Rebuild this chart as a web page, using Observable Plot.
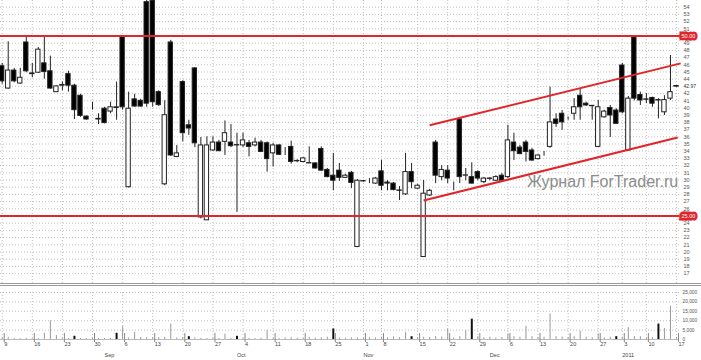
<!DOCTYPE html>
<html><head><meta charset="utf-8">
<script src="https://cdn.jsdelivr.net/npm/d3@7"></script>
<script src="https://cdn.jsdelivr.net/npm/@observablehq/plot@0.6"></script>
<style>
body{margin:0;background:#fff;}
#wrap{position:relative;width:701px;height:360px;overflow:hidden;font-family:"Liberation Sans",Arial,sans-serif;background:#fff;}
#wm{position:absolute;left:527px;top:173px;font-size:16px;color:#8c8c8c;white-space:nowrap;font-family:"Liberation Sans",Arial,sans-serif;}
#vol{border-top:3px double #9a9a9a;}
svg{display:block}
</style></head><body>
<div id="wrap"><div id="main"></div><div id="vol"></div><div id="wm">Журнал ForTrader.ru</div></div>
<script>
const opens = [45.8,42.7,45.2,43.4,49.1,44.8,44.9,46.2,45.1,42.2, 43.1,44.7,43.1,41.7,38.8,39.9,38.4,39.9,39.5,40.0, 49.9,29.0,41.2,41.0,54.7,54.9,42.2,29.4,49.1,33.2, 43.6,37.6,45.5,24.8,24.4,34.1,35.2,35.3,35.2,34.8, 34.8,35.1,34.8,35.2,35.1,33.7,34.8,34.4,34.6,32.6, 32.5,32.3,32.3,34.3,31.4,30.6,31.3,30.3,31.0,20.7, 29.85,29.8,29.5,31.2,29.65,29.5,28.55,28.0,31.1,28.8, 19.3,27.85,35.2,30.4,31.3,29.5,38.4,30.6,30.4,31.1, 29.7,30.15,29.9,30.6,30.4,35.2,34.5,35.2,34.1,32.9, 33.9,34.6,38.4,39.2,38.7,39.2,41.7,40.6,40.3,34.6, 38.7,40.0,39.65,45.9,34.1,49.8,41.8,41.2,41.4,41.1, 39.4,41.3,43.05];
const closes = [43.7,45.2,43.7,44.2,45.1,44.7,48.1,45.0,42.7,43.0, 43.2,43.1,39.7,38.9,38.4,39.9,38.5,37.9,40.1,40.1, 40.1,39.9,40.2,40.2,40.6,40.8,40.4,39.0,33.4,33.7, 36.5,37.15,35.1,34.8,34.8,35.2,34.0,36.5,34.7,34.85, 35.5,34.6,35.2,33.9,32.9,34.8,33.5,34.4,32.5,32.65, 33.0,32.35,31.6,31.3,30.4,29.9,30.3,30.6,29.6,29.9, 29.8,29.8,30.2,29.2,29.5,28.6,28.5,31.1,29.7,29.2, 28.1,28.5,30.6,31.4,30.2,29.5,30.4,30.65,29.5,30.2, 30.2,30.2,30.4,29.9,35.5,34.0,33.6,33.9,32.7,33.4, 33.9,38.0,37.8,38.0,38.7,40.1,40.1,40.35,40.25,40.1, 39.5,38.96,37.8,39.4,41.3,41.3,41.04,41.15,40.6,41.04, 41.1,42.2,42.97];
const highs = [46.2,49.2,45.5,45.5,49.8,46.2,48.4,49.8,47.2,43.1, 43.6,45.1,43.3,41.9,38.9,40.8,39.2,40.1,40.8,43.6, 49.9,42.2,41.9,41.2,56,56,42.4,41.0,49.4,34.8, 43.8,38.3,45.6,35.9,36.0,36.0,35.5,38.2,37.7,36.5, 36.5,35.5,35.8,35.5,35.3,35.1,34.9,34.5,35.4,32.8, 33.1,34.6,32.4,34.6,31.6,33.7,32.3,30.8,31.2,30.07, 29.93,30.2,30.35,32.7,29.9,29.65,29.1,33.7,32.3,29.4, 29.93,28.7,35.5,32.0,32.0,29.7,38.5,31.6,32.4,31.3, 30.35,30.35,30.6,30.9,37.6,36.5,34.8,35.5,34.4,33.5, 33.95,42.9,39.2,39.65,38.75,41.3,42.7,40.8,40.35,41.04, 39.7,40.35,39.9,46.2,41.6,49.9,42.2,42.0,41.5,41.3, 41.7,47.3,43.1];
const lows = [43.3,42.6,43.5,43.3,44.9,44.2,44.8,44.0,42.6,42.2, 42.4,42.2,38.4,38.7,38.3,39.7,37.7,37.8,39.2,38.3, 39.7,28.9,40.1,40.1,40.1,40.1,40.2,29.2,33.3,33.1, 35.3,36.2,34.5,24.6,24.4,34.0,34.0,33.4,34.5,25.5, 34.5,33.2,34.6,33.8,31.1,31.8,33.4,33.4,32.2,32.4, 32.4,32.3,31.5,31.2,30.3,28.5,29.8,30.2,28.8,20.6, 29.7,29.5,29.4,28.5,28.5,28.5,27.15,27.85,28.8,28.7, 19.24,27.7,29.5,29.9,29.5,28.5,29.5,29.9,29.45,29.9, 29.5,29.9,29.8,29.8,30.2,32.7,33.5,32.5,32.6,32.8, 33.3,34.4,37.3,36.9,38.3,38.3,38.3,40.2,38.3,34.5, 38.6,35.9,37.7,39.2,34.0,41.0,40.35,40.6,40.1,38.5, 38.96,41.04,42.9];
const volumes = [700,1200,500,400,600,400,500,3300,9900,2100, 400,500,1700,500,400,500,600,500,600,3300, 6800,800,3800,1000,1000,1000,1000,1200,8200,800, 1000,1500,800,600,500,600,500,2800,600,1700, 500,600,500,700,4700,600,500,800,900,600, 500,1000,700,900,1200,5600,800,700,900,800, 700,900,800,1200,900,1400,1000,3800,1500,800, 1200,1000,1500,1300,5600,800,1500,4700,10800,1500, 900,1200,800,1000,3000,1500,1200,7000,1500,1000, 1200,13500,1500,1300,1000,1500,4500,1200,1000,3000, 900,1200,1500,1200,6300,1500,1500,800,1000,8200, 5900,17700,1000];
const darkVolumes = [12,19,31,39,55,68,78,102,109];

const weekTicks = [0,5,10,15,20,25,30,35,40,45,50,55,60,63,69,74,79,84,89,94,99,103,107,112];
const weekLabels = ["9","16","23","30","6","13","20","27","4","11","18","25","1","8","15","22","29","6","13","20","27","3","10","17"];
const monthTicks = [17,39,60,81,103];
const monthLabels = ["Sep","Oct","Nov","Dec","2011"];
const priceTicks = d3.range(17,55);
const levels = [50,25];
const levelLabels = ["50.00","25.00"];
const channelStart = [71, 70];
const channelEnd = [112.7, 112.2];
const channelStartPrice = [37.6, 27.15];
const channelEndPrice = [46.2, 35.9];
const volTicks = [0,5000,10000,15000,20000,25000];
const lastPrice = 42.97;

const candles = opens.map((o,i)=>({i, o, c: closes[i], h: highs[i], l: lows[i], v: volumes[i], dark: darkVolumes.includes(i)}));
const channel = channelStart.map((s,k)=>({x1:s, x2:channelEnd[k], y1:channelStartPrice[k], y2:channelEndPrice[k]}));
const levelData = levels.map((y,k)=>({y, t: levelLabels[k]}));
const weekLbl = new Map(weekTicks.map((t,k)=>[t, weekLabels[k]]));
const months = monthTicks.map((i,k)=>({i, t: monthLabels[k]}));

const xDomain = [-0.282, 112.5];
const W = 701;
const font = "Liberation Sans, Arial, sans-serif";
const red = "#e0262b";
const gridStyle = {stroke:"#c0c0c0", strokeOpacity:1, strokeDasharray:"1,2"};
const hidden = [...levels, Math.round(lastPrice)];

const main = Plot.plot({
  width: W, height: 283,
  marginLeft: 0, marginRight: 22, marginTop: 0, marginBottom: 0,
  style: {fontFamily: font, background: "#fff"},
  x: {domain: xDomain, axis: null, label: null},
  y: {domain: [15.625, 54.93], axis: null, label: null},
  marks: [
    Plot.gridY(priceTicks, gridStyle),
    Plot.gridX(weekTicks, gridStyle),
    Plot.axisY(priceTicks.filter(d=>!hidden.includes(d)), {anchor:"right", label:null, tickSize:0, tickPadding:4, fontSize:5.5, fill:"#555", tickFormat: d=>String(d)}),
    Plot.ruleX(candles, {x:"i", y1:"l", y2:"h", stroke:"#222", strokeWidth:1}),
    Plot.rect(candles, {x1: d=>d.i-0.36, x2: d=>d.i+0.36, y1:"o", y2:"c", fill: d=> d.c < d.o ? "#000" : "#fff", stroke:"#222", strokeWidth:1}),
    Plot.ruleY(levels, {stroke: red, strokeWidth: 2}),
    Plot.link(channel, {x1:"x1", y1:"y1", x2:"x2", y2:"y2", stroke: red, strokeWidth: 2}),
    Plot.text(levelData, {y:"y", text:"t", frameAnchor:"right", textAnchor:"start", dx:2, fontSize:5.5, fill:"#fff", stroke: red, strokeWidth:5, strokeLinejoin:"miter"}),
    Plot.text([lastPrice], {y: d=>d, text: d=>d.toFixed(2), frameAnchor:"right", textAnchor:"start", dx:4, fontSize:5, fill:"#333", stroke:"#fff", strokeWidth:3})
  ]
});
document.getElementById("main").appendChild(main);

const vol = Plot.plot({
  width: W, height: 74,
  marginLeft: 0, marginRight: 22, marginTop: 6, marginBottom: 21,
  style: {fontFamily: font, background: "#fff"},
  x: {domain: xDomain, axis: null, label: null},
  y: {domain: [0, 25000], axis: null, label: null},
  marks: [
    Plot.gridY(volTicks, gridStyle),
    Plot.gridX(weekTicks, gridStyle),
    Plot.axisY(volTicks, {anchor:"right", label:null, tickSize:0, tickPadding:3, fontSize:4.8, fill:"#555", tickFormat: d3.format(",")}),
    Plot.ruleX(candles, {x:"i", y1:0, y2:"v", stroke: d=>d.dark ? "#111" : "#999", strokeWidth: d=>d.dark ? 2 : 1}),
    Plot.ruleY([0], {stroke:"#bbb"}),
    Plot.axisX(weekTicks, {anchor:"bottom", label:null, tickSize:9, tickPadding:0, textAnchor:"start", dx:2, dy:-6, fontSize:5.5, fill:"#444", stroke:"#888", tickFormat: d=>weekLbl.get(d)}),
    Plot.text(months, {x:"i", text:"t", frameAnchor:"bottom", textAnchor:"start", dy:17, fontSize:5.5, fill:"#444"})
  ]
});
document.getElementById("vol").appendChild(vol);
</script>
</body></html>
